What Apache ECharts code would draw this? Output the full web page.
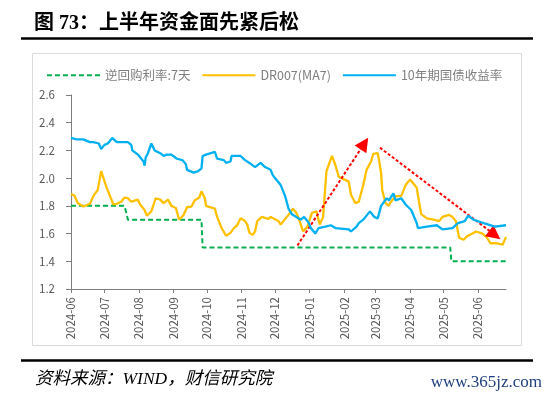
<!DOCTYPE html>
<html>
<head>
<meta charset="utf-8">
<script src="https://cdn.jsdelivr.net/npm/echarts@6/dist/echarts.min.js"></script>
<style>
html,body{margin:0;padding:0;background:#fff;}
#chart{width:550px;height:398px;}
</style>
</head>
<body>
<div id="chart"></div>
<script>
// ---- data ----
const seriesNames = ['逆回购利率:7天', 'DR007(MA7)', '10年期国债收益率'];

const repoDates = ['2024-06-01','2024-07-19','2024-07-22','2024-09-26','2024-09-27','2025-05-07','2025-05-08','2025-06-26'];
const repoValues = [1.8,1.8,1.7,1.7,1.5,1.5,1.4,1.4];

const drDates = ['2024-06-01','2024-06-04','2024-06-07','2024-06-12','2024-06-18','2024-06-21','2024-06-25','2024-06-28',
'2024-07-03','2024-07-09','2024-07-12','2024-07-16','2024-07-19','2024-07-22','2024-07-25','2024-07-31',
'2024-08-02','2024-08-06','2024-08-08','2024-08-12','2024-08-16','2024-08-20','2024-08-23','2024-08-27','2024-08-30',
'2024-09-03','2024-09-06','2024-09-10','2024-09-13','2024-09-17','2024-09-20','2024-09-24','2024-09-26','2024-09-29','2024-09-30',
'2024-10-08','2024-10-10','2024-10-14','2024-10-18','2024-10-22','2024-10-25','2024-10-28','2024-10-31',
'2024-11-04','2024-11-06','2024-11-08','2024-11-11','2024-11-13','2024-11-15','2024-11-19','2024-11-25','2024-11-27',
'2024-12-04','2024-12-06','2024-12-13','2024-12-17','2024-12-20','2024-12-23','2024-12-26','2024-12-30',
'2025-01-03','2025-01-07','2025-01-10','2025-01-13','2025-01-16','2025-01-21','2025-01-24','2025-01-27',
'2025-02-05','2025-02-07','2025-02-11','2025-02-14','2025-02-18','2025-02-21','2025-02-25','2025-02-27',
'2025-03-03','2025-03-04','2025-03-06','2025-03-07','2025-03-10','2025-03-13','2025-03-14','2025-03-19','2025-03-24','2025-03-28',
'2025-04-01','2025-04-07','2025-04-09','2025-04-11','2025-04-16','2025-04-22','2025-04-27','2025-04-30',
'2025-05-06','2025-05-09','2025-05-12','2025-05-15','2025-05-19','2025-05-22','2025-05-27','2025-05-30',
'2025-06-05','2025-06-09','2025-06-12','2025-06-18','2025-06-23','2025-06-26'];
const drValues = [1.885,1.875,1.82,1.795,1.815,1.87,1.915,2.05,
1.93,1.81,1.815,1.83,1.86,1.855,1.83,1.845,
1.81,1.77,1.73,1.76,1.855,1.845,1.82,1.845,1.80,
1.785,1.70,1.735,1.79,1.795,1.84,1.86,1.905,1.855,1.80,
1.78,1.72,1.64,1.585,1.605,1.64,1.66,1.71,
1.69,1.665,1.605,1.59,1.615,1.69,1.72,1.705,1.72,
1.69,1.665,1.735,1.78,1.75,1.69,1.615,1.65,
1.75,1.76,1.665,1.72,2.05,2.16,2.095,2.01,
1.975,1.88,1.82,1.83,1.95,2.06,2.12,2.175,
2.18,2.14,2.035,1.915,1.82,1.80,1.82,1.87,1.87,1.95,
1.99,1.93,1.83,1.74,1.71,1.70,1.69,1.72,
1.735,1.72,1.69,1.57,1.555,1.58,1.60,1.615,
1.60,1.57,1.53,1.53,1.52,1.575];

const cgbDates = ['2024-06-01','2024-06-06','2024-06-12','2024-06-18','2024-06-21','2024-06-26','2024-06-28',
'2024-07-01','2024-07-04','2024-07-08','2024-07-12','2024-07-18','2024-07-22','2024-07-25','2024-07-26','2024-07-31',
'2024-08-05','2024-08-06','2024-08-07','2024-08-09','2024-08-12','2024-08-15','2024-08-20','2024-08-23','2024-08-26','2024-08-27','2024-08-30',
'2024-09-04','2024-09-09','2024-09-12','2024-09-13','2024-09-19','2024-09-23','2024-09-24','2024-09-26','2024-09-27','2024-09-30',
'2024-10-08','2024-10-10','2024-10-16','2024-10-18','2024-10-22','2024-10-23','2024-10-31',
'2024-11-04','2024-11-08','2024-11-13','2024-11-18','2024-11-22','2024-11-27','2024-11-29',
'2024-12-04','2024-12-06','2024-12-10','2024-12-13','2024-12-16','2024-12-20','2024-12-24','2024-12-27','2024-12-31',
'2025-01-02','2025-01-06','2025-01-09','2025-01-15','2025-01-20','2025-01-24',
'2025-02-05','2025-02-07','2025-02-12','2025-02-14','2025-02-18','2025-02-24','2025-02-28',
'2025-03-03','2025-03-06','2025-03-11','2025-03-13','2025-03-17','2025-03-19','2025-03-24','2025-03-28',
'2025-04-02','2025-04-07','2025-04-08','2025-04-16','2025-04-25','2025-04-30',
'2025-05-09','2025-05-14','2025-05-20','2025-05-23','2025-05-28',
'2025-06-06','2025-06-16','2025-06-26'];
const cgbValues = [2.29,2.28,2.28,2.26,2.26,2.25,2.21,
2.24,2.25,2.29,2.26,2.26,2.26,2.24,2.20,2.17,
2.12,2.09,2.15,2.18,2.25,2.20,2.18,2.16,2.17,2.18,2.17,
2.14,2.13,2.10,2.06,2.04,2.05,2.04,2.07,2.16,2.17,
2.19,2.14,2.13,2.11,2.12,2.16,2.16,
2.13,2.11,2.08,2.11,2.08,2.06,2.02,
1.97,1.95,1.87,1.78,1.74,1.72,1.70,1.72,1.68,
1.64,1.60,1.64,1.65,1.66,1.64,
1.63,1.615,1.65,1.675,1.70,1.76,1.72,
1.71,1.80,1.855,1.84,1.89,1.84,1.855,1.81,
1.77,1.675,1.64,1.65,1.66,1.63,
1.64,1.675,1.69,1.73,1.70,
1.675,1.65,1.66];

const tickLabels = ['2024-06','2024-07','2024-08','2024-09','2024-10','2024-11','2024-12',
'2025-01','2025-02','2025-03','2025-04','2025-05','2025-06'];
const xMin = '2024-06-01';
const xMax = '2025-06-26';
const yMin = 1.2, yMax = 2.6, yStep = 0.2;

// annotation arrows (data coordinates): [startDate, startValue, endDate, endValue]
const arrowUp = ['2024-12-21', 1.514, '2025-02-19', 2.25];
const arrowDown = ['2025-03-05', 2.22, '2025-06-16', 1.59];

const titleText = '图 73：上半年资金面先紧后松';
const sourceText = '资料来源：WIND，财信研究院';
const watermarkText = 'www.365jz.com';

// ---- helpers ----
function ts(s) {
  const p = s.split('-').map(Number);
  return new Date(p[0], p[1] - 1, p[2] || 1).getTime();
}
function pairs(dates, vals) { return dates.map((d, i) => [ts(d), vals[i]]); }
function pad(n) { return n < 10 ? '0' + n : '' + n; }

const tickSet = new Set(tickLabels);
const DAY = 86400000;
const axisGray = '#7f7f7f';
const labelGray = '#595959';
const cjk = '"Noto Sans CJK SC", "Noto Sans", sans-serif';

const chart = echarts.init(document.getElementById('chart'), null, {renderer: 'canvas'});
chart.setOption({
  animation: false,
  backgroundColor: '#ffffff',
  textStyle: {fontFamily: cjk},
  graphic: [
    {type: 'rect', z: -10, silent: true,
     shape: {x: 32.5, y: 53.5, width: 489, height: 292},
     style: {fill: '#ffffff', stroke: '#d9d9d9', lineWidth: 1}},
    {type: 'line', silent: true, shape: {x1: 21, y1: 38.5, x2: 533, y2: 38.5},
     style: {stroke: '#000', lineWidth: 2.6}},
    {type: 'line', silent: true, shape: {x1: 21, y1: 360.5, x2: 533, y2: 360.5},
     style: {stroke: '#000', lineWidth: 2.6}},
    {type: 'text', silent: true, x: 34, y: 23.5,
     style: {text: titleText, fill: '#000', fontSize: 20, fontWeight: 'bold',
             fontFamily: '"Liberation Serif", "Noto Sans CJK SC", serif', verticalAlign: 'middle'}},
    {type: 'text', silent: true, x: 35, y: 379,
     style: {text: sourceText, fill: '#000', fontSize: 17.5, fontStyle: 'italic',
             fontFamily: '"Liberation Serif", "Noto Sans CJK SC", serif', verticalAlign: 'middle'}},
    {type: 'text', silent: true, x: 542, y: 383,
     style: {text: watermarkText, fill: '#1f3f7f', fontSize: 17,
             fontFamily: '"Liberation Serif", "DejaVu Serif", serif', align: 'right', verticalAlign: 'middle'}}
  ],
  legend: {
    left: 46, top: 69, padding: 0,
    itemWidth: 53, itemHeight: 14, itemGap: 11,
    itemStyle: {opacity: 0},
    textStyle: {color: '#7f7f7f', fontSize: 12.5, fontFamily: cjk},
    data: seriesNames
  },
  grid: {left: 71, right: 44, top: 95, bottom: 109, containLabel: false},
  xAxis: {
    type: 'time',
    min: ts(xMin), max: ts(xMax),
    minInterval: 28 * DAY, maxInterval: 31 * DAY,
    axisLine: {show: true, lineStyle: {color: axisGray, width: 1}},
    axisTick: {show: true, inside: false, length: 4, lineStyle: {color: axisGray}},
    axisLabel: {
      rotate: 90, margin: 8, color: labelGray, fontSize: 11.5, fontFamily: cjk,
      showMinLabel: true, showMaxLabel: false, hideOverlap: false,
      formatter: function (v) {
        const d = new Date(v);
        const s = d.getFullYear() + '-' + pad(d.getMonth() + 1);
        return (d.getDate() === 1 && tickSet.has(s)) ? s : '';
      }
    },
    splitLine: {show: false}
  },
  yAxis: {
    type: 'value', min: yMin, max: yMax, interval: yStep,
    axisLine: {show: true, lineStyle: {color: axisGray, width: 1}},
    axisTick: {show: true, inside: false, length: 5, lineStyle: {color: axisGray}},
    axisLabel: {color: labelGray, fontSize: 11.5, margin: 16, fontFamily: cjk,
                formatter: v => v.toFixed(1)},
    splitLine: {show: false}
  },
  series: [
    {name: seriesNames[0], type: 'line', symbol: 'none', showSymbol: false,
     data: pairs(repoDates, repoValues),
     lineStyle: {color: '#00b050', width: 2, type: [5, 3]}, itemStyle: {color: '#00b050'}, z: 3},
    {name: seriesNames[1], type: 'line', symbol: 'none', showSymbol: false,
     data: pairs(drDates, drValues),
     lineStyle: {color: '#ffc000', width: 2.3}, itemStyle: {color: '#ffc000'}, z: 4},
    {name: seriesNames[2], type: 'line', symbol: 'none', showSymbol: false,
     data: pairs(cgbDates, cgbValues),
     lineStyle: {color: '#00b0f0', width: 2.3}, itemStyle: {color: '#00b0f0'}, z: 5,
     markLine: {
       silent: true, animation: false,
       symbol: ['none', 'triangle'], symbolSize: 14,
       label: {show: false},
       lineStyle: {color: '#ff0000', width: 2, type: [3, 2]},
       emphasis: {disabled: true},
       data: [
         [{coord: [ts(arrowUp[0]), arrowUp[1]]}, {coord: [ts(arrowUp[2]), arrowUp[3]]}],
         [{coord: [ts(arrowDown[0]), arrowDown[1]]}, {coord: [ts(arrowDown[2]), arrowDown[3]]}]
       ]
     }}
  ]
});
</script>
</body>
</html>
